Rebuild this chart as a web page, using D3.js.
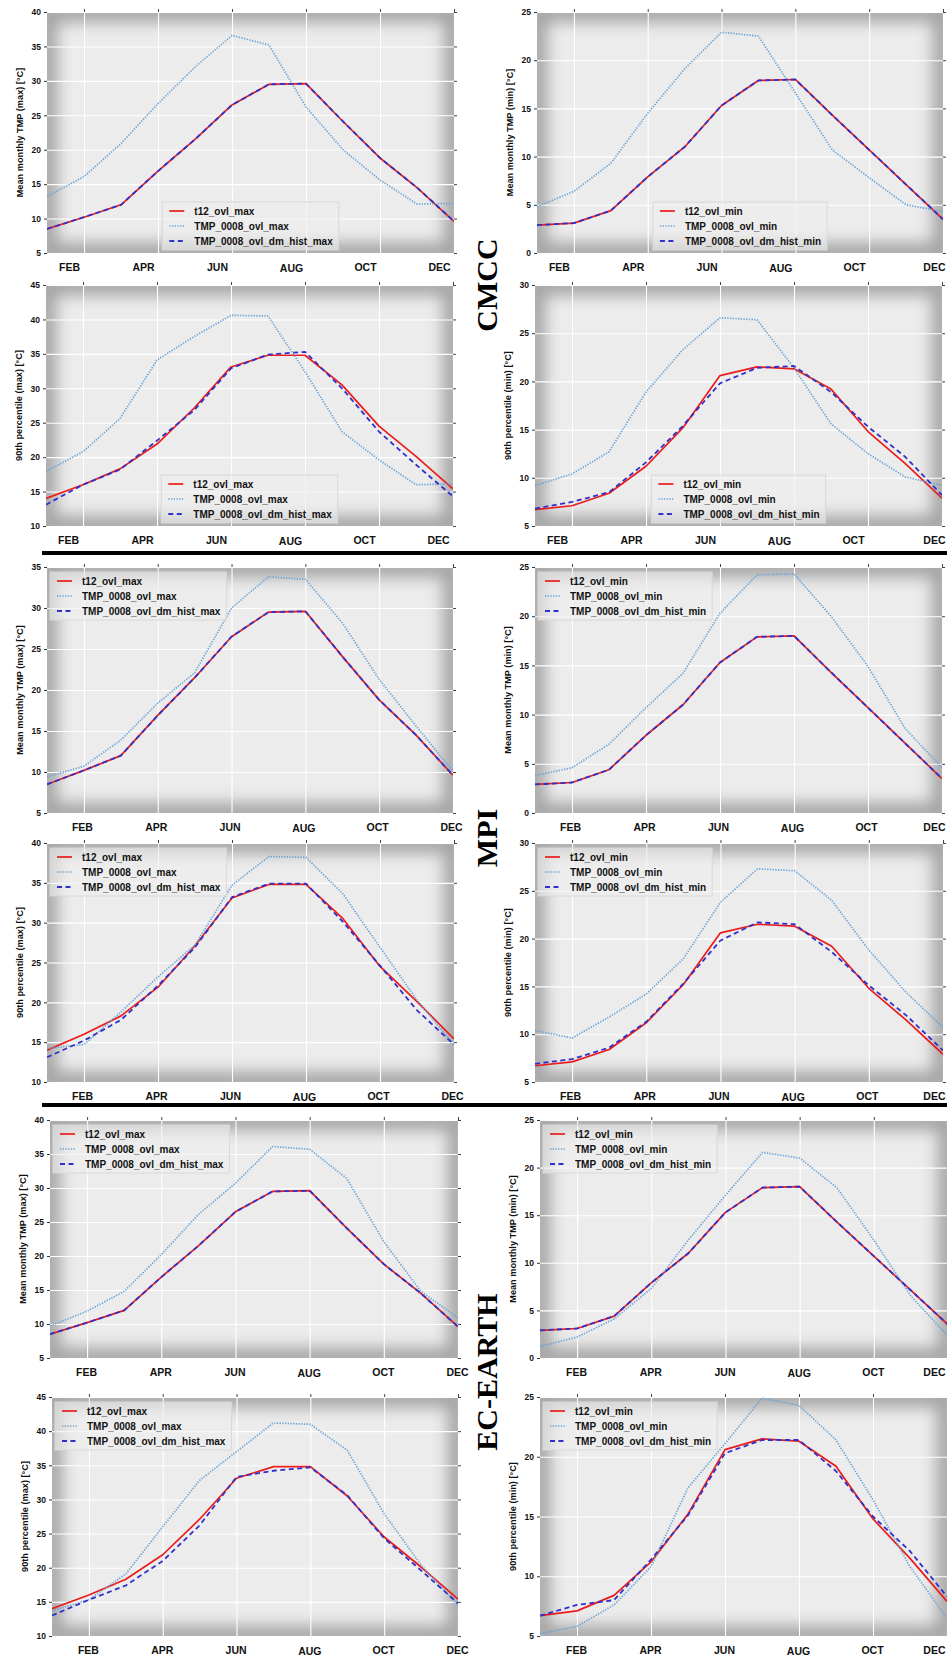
<!DOCTYPE html>
<html>
<head>
<meta charset="utf-8">
<script src="https://cdn.jsdelivr.net/npm/d3@7"></script>
<style>
  body { margin: 0; background: #fff; overflow: hidden; }
  svg { display: block; }
</style>
</head>
<body>
<div id="chart"></div>
<script>
// Months on the x axis (0 = JAN ... 11 = DEC), only every second one is labelled
var months = ['JAN', 'FEB', 'MAR', 'APR', 'MAY', 'JUN', 'JUL', 'AUG', 'SEP', 'OCT', 'NOV', 'DEC']
var tickMonths = [1, 3, 5, 7, 9, 11]

// Observed (t12_ovl_*) - same in every model row
var obsMeanMax = [8.5, 10.2, 12.0, 16.9, 21.5, 26.5, 29.5, 29.6, 24.1, 18.8, 14.5, 9.6]
var obsMeanMin = [2.9, 3.1, 4.4, 7.9, 11.0, 15.3, 17.9, 18.0, 14.3, 10.7, 7.1, 3.5]
var obs90Max = [14.0, 16.0, 18.3, 21.9, 27.1, 33.1, 34.8, 34.8, 30.5, 24.5, 20.1, 15.4]
var obs90Min = [6.7, 7.1, 8.4, 11.2, 15.2, 20.6, 21.5, 21.3, 19.2, 14.8, 11.5, 7.9]

// Raw model output (TMP_0008_ovl_*)
var cmccMeanMax = [13.2, 16.1, 20.9, 26.7, 32.0, 36.6, 35.2, 26.2, 20.0, 15.6, 12.1, 12.2]
var cmccMeanMin = [4.8, 6.4, 9.3, 14.5, 19.1, 22.9, 22.5, 16.6, 10.7, 7.8, 5.0, 4.3]
var cmcc90Max = [17.9, 20.8, 25.6, 34.1, 37.5, 40.6, 40.5, 32.4, 23.7, 19.6, 16.0, 16.1]
var cmcc90Min = [9.2, 10.4, 12.7, 18.9, 23.3, 26.6, 26.4, 21.4, 15.6, 12.5, 10.1, 9.2]
var mpiMeanMax = [9.4, 10.7, 13.9, 18.4, 22.1, 30.0, 33.8, 33.5, 28.2, 21.3, 15.6, 10.1]
var mpiMeanMin = [3.8, 4.6, 7.0, 10.7, 14.2, 20.3, 24.2, 24.3, 20.0, 14.9, 8.6, 4.6]
var mpi90Max = [14.2, 14.7, 18.8, 23.2, 27.2, 34.7, 38.3, 38.2, 33.6, 26.9, 20.3, 14.7]
var mpi90Min = [10.4, 9.6, 11.8, 14.2, 17.9, 23.8, 27.3, 27.1, 24.0, 18.8, 14.4, 10.7]
var ecMeanMax = [9.7, 11.9, 14.8, 20.2, 26.1, 30.7, 36.1, 35.7, 31.4, 22.1, 14.8, 10.9]
var ecMeanMin = [1.2, 2.2, 4.1, 7.3, 12.4, 17.1, 21.6, 21.0, 17.9, 12.4, 6.5, 2.3]
var ec90Max = [13.7, 15.3, 19.1, 26.0, 32.8, 37.0, 41.2, 41.0, 37.2, 27.9, 20.4, 14.5]
var ec90Min = [5.2, 5.8, 7.6, 10.8, 17.4, 21.1, 24.9, 24.3, 21.4, 16.4, 10.8, 6.5]

// Bias corrected (TMP_0008_ovl_dm_hist_*). Monthly means match the observations exactly.
var cmccDm90Max = [13.1, 16.0, 18.2, 22.4, 26.8, 32.9, 34.9, 35.3, 30.0, 23.7, 18.9, 14.3]
var cmccDm90Min = [6.8, 7.5, 8.5, 11.6, 15.4, 19.8, 21.4, 21.6, 18.9, 15.3, 12.2, 8.2]
var mpiDm90Max = [13.1, 15.2, 17.8, 22.1, 26.9, 33.2, 34.9, 34.9, 30.1, 24.6, 19.0, 14.7]
var mpiDm90Min = [6.9, 7.4, 8.6, 11.3, 15.3, 19.8, 21.7, 21.5, 18.6, 15.1, 12.0, 8.3]
var ecDm90Max = [13.0, 15.3, 17.4, 21.0, 26.2, 33.3, 34.2, 34.7, 30.6, 24.3, 19.6, 14.8]
var ecDm90Min = [6.7, 7.6, 8.0, 11.4, 15.1, 20.3, 21.4, 21.4, 18.8, 15.0, 12.1, 8.3]

// y axis ranges per panel (reading order)
var yRanges = [[5, 40], [0, 25], [10, 45], [5, 30],
               [5, 35], [0, 25], [10, 40], [5, 30],
               [5, 40], [0, 25], [10, 45], [5, 25]]

var models = ['CMCC', 'MPI', 'EC-EARTH']

var panels = [
  { stat: 'mean', kind: 'max', obs: obsMeanMax, sim: cmccMeanMax, dm: obsMeanMax },
  { stat: 'mean', kind: 'min', obs: obsMeanMin, sim: cmccMeanMin, dm: obsMeanMin },
  { stat: '90', kind: 'max', obs: obs90Max, sim: cmcc90Max, dm: cmccDm90Max },
  { stat: '90', kind: 'min', obs: obs90Min, sim: cmcc90Min, dm: cmccDm90Min },
  { stat: 'mean', kind: 'max', obs: obsMeanMax, sim: mpiMeanMax, dm: obsMeanMax },
  { stat: 'mean', kind: 'min', obs: obsMeanMin, sim: mpiMeanMin, dm: obsMeanMin },
  { stat: '90', kind: 'max', obs: obs90Max, sim: mpi90Max, dm: mpiDm90Max },
  { stat: '90', kind: 'min', obs: obs90Min, sim: mpi90Min, dm: mpiDm90Min },
  { stat: 'mean', kind: 'max', obs: obsMeanMax, sim: ecMeanMax, dm: obsMeanMax },
  { stat: 'mean', kind: 'min', obs: obsMeanMin, sim: ecMeanMin, dm: obsMeanMin },
  { stat: '90', kind: 'max', obs: obs90Max, sim: ec90Max, dm: ecDm90Max },
  { stat: '90', kind: 'min', obs: obs90Min, sim: ec90Min, dm: ecDm90Min }
]

// Plot boxes [left, right, top, bottom] in page pixels
var boxes = [
  [47, 454, 12, 253], [537, 943, 12, 253],
  [46, 453, 285, 526], [535, 942, 285, 526],
  [47, 453, 567, 813], [535, 942, 567, 813],
  [47, 454, 843, 1082], [535, 943, 843, 1082],
  [50, 458, 1120, 1358], [540, 948, 1120, 1358],
  [52, 458, 1397, 1636], [540, 947, 1397, 1636]
]
var labelShift = [-15, -15, -15, -15, -2, -2, -2, -2, -1, -1, -1, -1]

var width = 947
var height = 1659
var font = "'Liberation Sans', Arial, sans-serif"

var svg = d3.select('#chart')
  .append('svg')
  .attr('width', width)
  .attr('height', height)
  .style('font-family', font)

var defs = svg.append('defs')
defs.append('filter')
  .attr('id', 'soft')
  .attr('x', '-20%').attr('y', '-20%')
  .attr('width', '140%').attr('height', '140%')
  .append('feGaussianBlur')
  .attr('stdDeviation', 8)

var styles = [
  { key: 'obs', color: '#ea1c1c', width: 1.7, dash: null },
  { key: 'sim', color: '#68a3d8', width: 1.7, dash: '1.3,1.4' },
  { key: 'dm', color: '#3030cc', width: 1.8, dash: '5,3.5' }
]

panels.forEach(function (p, i) {
  var b = boxes[i]
  var x0 = b[0], x1 = b[1], y0 = b[2], y1 = b[3]
  var g = svg.append('g')

  var x = d3.scaleLinear().domain([0, 11]).range([x0, x1])
  var y = d3.scaleLinear().domain(yRanges[i]).range([y1, y0])
  var yTicks = d3.range(yRanges[i][0], yRanges[i][1] + 0.1, 5)

  defs.append('clipPath')
    .attr('id', 'clip' + i)
    .append('rect')
    .attr('x', x0).attr('y', y0)
    .attr('width', x1 - x0).attr('height', y1 - y0)

  // background with a soft grey vignette towards the edges
  var bg = g.append('g').attr('clip-path', 'url(#clip' + i + ')')
  bg.append('rect')
    .attr('x', x0).attr('y', y0)
    .attr('width', x1 - x0).attr('height', y1 - y0)
    .attr('fill', '#ececec')
  bg.append('rect')
    .attr('x', x0).attr('y', y0)
    .attr('width', x1 - x0).attr('height', y1 - y0)
    .attr('fill', 'none')
    .attr('stroke', '#a2a2a2')
    .attr('stroke-width', 20)
    .attr('filter', 'url(#soft)')

  // white grid
  g.append('g')
    .attr('transform', 'translate(' + x0 + ',0)')
    .call(d3.axisLeft(y).tickValues(yTicks).tickSize(-(x1 - x0)).tickFormat(''))
    .call(function (a) { a.select('.domain').remove() })
    .selectAll('line').attr('stroke', '#ffffff').attr('stroke-width', 1.1)
  g.append('g')
    .attr('transform', 'translate(0,' + y1 + ')')
    .call(d3.axisBottom(x).tickValues(tickMonths).tickSize(-(y1 - y0)).tickFormat(''))
    .call(function (a) { a.select('.domain').remove() })
    .selectAll('line').attr('stroke', '#ffffff').attr('stroke-width', 1.1)

  // small ticks on top and right spines
  g.append('g')
    .attr('transform', 'translate(0,' + y0 + ')')
    .call(d3.axisTop(x).tickValues(tickMonths).tickSize(3).tickFormat(''))
    .call(function (a) { a.select('.domain').remove() })
    .selectAll('line').attr('stroke', '#444')
  g.append('g')
    .attr('transform', 'translate(' + x1 + ',0)')
    .call(d3.axisRight(y).tickValues(yTicks).tickSize(3).tickFormat(''))
    .call(function (a) { a.select('.domain').remove() })
    .selectAll('line').attr('stroke', '#444')

  // y axis
  var ya = g.append('g')
    .attr('transform', 'translate(' + x0 + ',0)')
    .call(d3.axisLeft(y).tickValues(yTicks).tickSize(3).tickPadding(3))
  ya.select('.domain').remove()
  ya.selectAll('line').attr('stroke', '#333')
  ya.selectAll('text')
    .attr('font-size', 8.5)
    .attr('font-weight', 'bold')
    .attr('font-family', font)
    .attr('fill', '#111')

  // x axis labels
  var xa = g.append('g')
    .attr('transform', 'translate(0,' + y1 + ')')
    .call(d3.axisBottom(x).tickValues(tickMonths).tickSize(0).tickPadding(11)
      .tickFormat(function (d) { return months[d] }))
  xa.select('.domain').remove()
  xa.selectAll('text')
    .attr('font-size', 10.5)
    .attr('font-weight', 'bold')
    .attr('font-family', font)
    .attr('fill', '#111')
    .attr('dx', labelShift[i])
    .attr('dy', function (d) { return d === 7 ? '0.8em' : '0.71em' })
  // DEC sits on the page edge in the right column: end-anchor it inside the page
  if (x1 > width - 12) {
    xa.selectAll('text')
      .filter(function (d) { return d === 11 })
      .attr('text-anchor', 'end')
      .attr('dx', width - 2 - x(11))
  }

  // y axis title
  var title = (p.stat === 'mean' ? 'Mean monthly TMP (' + p.kind + ')' : '90th percentile (' + p.kind + ')') + ' [°C]'
  g.append('text')
    .attr('transform', 'translate(' + (x0 - 24) + ',' + ((y0 + y1) / 2) + ') rotate(-90)')
    .attr('text-anchor', 'middle')
    .attr('font-size', 9.2)
    .attr('font-weight', 'bold')
    .attr('fill', '#111')
    .text(title)

  // lines
  var line = d3.line()
    .x(function (d, k) { return x(k) })
    .y(function (d) { return y(d) })
  var lines = g.append('g').attr('clip-path', 'url(#clip' + i + ')')
  styles.forEach(function (s) {
    lines.append('path')
      .datum(p[s.key])
      .attr('d', line)
      .attr('fill', 'none')
      .attr('stroke', s.color)
      .attr('stroke-width', s.width)
      .attr('stroke-dasharray', s.dash)
      .attr('stroke-linejoin', 'round')
  })

  // legend
  var names = ['t12_ovl_' + p.kind, 'TMP_0008_ovl_' + p.kind, 'TMP_0008_ovl_dm_hist_' + p.kind]
  var leg = g.append('g')
  var box = leg.append('rect')
  var widest = 0
  names.forEach(function (n, k) {
    var s = styles[k]
    leg.append('line')
      .attr('x1', 7).attr('x2', 22)
      .attr('y1', 9 + k * 15).attr('y2', 9 + k * 15)
      .attr('stroke', s.color)
      .attr('stroke-width', s.width)
      .attr('stroke-dasharray', s.dash)
    var t = leg.append('text')
      .attr('x', 32).attr('y', 9 + k * 15)
      .attr('dy', '0.35em')
      .attr('font-size', 10)
      .attr('font-weight', 'bold')
      .attr('fill', '#111')
      .text(n)
    widest = Math.max(widest, t.node().getComputedTextLength())
  })
  var lw = 32 + widest + 6
  var lh = 48
  box.attr('width', lw).attr('height', lh)
    .attr('fill', '#efefef').attr('fill-opacity', 0.6)
    .attr('stroke', '#d8d8d8').attr('stroke-width', 1)
  var lx, ly
  if (i < 4) {
    // lower centre for the CMCC row
    lx = (x0 + x1) / 2 - lw / 2
    ly = y1 - lh - 3
  } else {
    lx = x0 + 3
    ly = y0 + 5
  }
  leg.attr('transform', 'translate(' + lx + ',' + ly + ')')
})

// separators between the model rows
var separators = [553, 1105]
svg.selectAll('.sep')
  .data(separators)
  .enter()
  .append('line')
  .attr('x1', 42).attr('x2', width)
  .attr('y1', function (d) { return d }).attr('y2', function (d) { return d })
  .attr('stroke', '#000')
  .attr('stroke-width', 4)

// model names between the columns
var modelPos = [285, 838, 1372]
models.forEach(function (m, k) {
  svg.append('text')
    .attr('transform', 'translate(497,' + modelPos[k] + ') rotate(-90)')
    .attr('text-anchor', 'middle')
    .attr('font-family', "'Liberation Serif', 'Times New Roman', serif")
    .attr('font-weight', 'bold')
    .attr('font-size', 30)
    .attr('fill', '#000')
    .text(m)
})
</script>
</body>
</html>
